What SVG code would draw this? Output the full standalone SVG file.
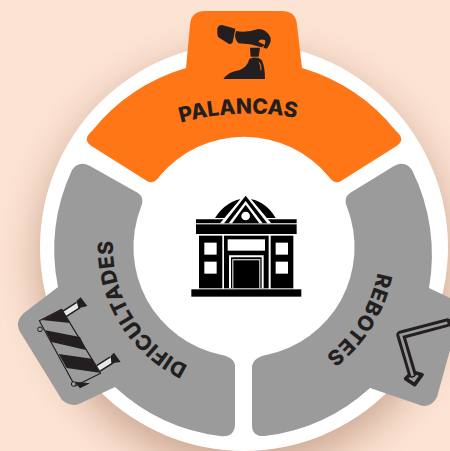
<svg xmlns="http://www.w3.org/2000/svg" width="450" height="451" viewBox="0 0 450 451">
<style>
.seg{stroke-linejoin:round}
.lab{font-family:"Inter","Liberation Sans",sans-serif;font-weight:800;font-size:21px;fill:#231f20;text-anchor:middle}
.ink{fill:#231f20}
.k{fill:#000}
.w{fill:#fff}
</style>
<defs>
<filter id="blur" x="-30%" y="-30%" width="160%" height="160%"><feGaussianBlur stdDeviation="22"/></filter>
<path id="pa" d="M129.5 142.9A260 260 0 0 1 349.1 133.5"/>
<path id="pd" d="M223.5 376.4A131 131 0 0 1 120.1 204.4"/>
<path id="pr" d="M373.3 205A136 136 0 0 1 262.9 381.7"/>
</defs>
<rect width="450" height="451" fill="#fde3d3"/>
<circle cx="244" cy="262" r="204" fill="#a87f66" opacity=".65" filter="url(#blur)"/>
<circle cx="244" cy="247" r="204" fill="#fff"/>
<g id="node-palancas">
<path class="seg" fill="#ff7617" d="M205 11H282Q296 11 297 25L302 68A190 190 0 0 1 396 131Q407 140 395 147L341 181Q335 185 329 177A110 110 0 0 0 159 177Q153 185 147 181L93 147Q81 140 92 131A190 190 0 0 1 186 68L190 25Q191 11 205 11Z"/>
<g transform="translate(210 15) scale(.3333)">
<path class="ink" d="M22 42Q24 30 36 30L76 41 68 82Q64 90 56 86L30 70Q22 66 22 58Z"/>
<path class="ink" d="M78 48Q110 54 145 42Q170 42 182 68Q184 85 170 101L160 98Q168 85 165 75Q150 70 145 80L165 90 155 97 120 88 86 85Q70 70 78 48Z"/>
<path class="ink" d="M120 98H150L146 125H122Z"/>
<path class="ink" d="M118 132Q140 122 155 135Q165 155 165 192H40Q55 170 90 165Q112 155 118 132Z"/>
<path d="M148 142Q154 152 153 166" fill="none" stroke="#ff7617" stroke-width="3"/>
</g>
<text class="lab"><textPath href="#pa" startOffset="50%">PALANCAS</textPath></text>
</g>
<g id="node-dificultades">
<path class="seg" fill="#9b9b9b" d="M72 170Q79 160 90 166L138 193Q145 198 141 207A110 110 0 0 0 222 355Q236 358 235 368L235 425Q234 438 220 436A190 190 0 0 1 115 387L81 403Q72 408 62 400L22 335Q13 323 24 313L58 287A190 190 0 0 1 72 170Z"/>
<g transform="translate(30 290) scale(.3333)">
<path d="M103 72L145 45M205 235L245 210" stroke="#231f20" stroke-width="24"/>
<path d="M103 72L145 45M205 235L245 210" stroke="#e8e8e8" stroke-width="15"/>
<path class="ink" d="M140 32L152 22 172 48 145 55Z"/>
<path class="ink" d="M242 198L252 188 272 216 244 220Z"/>
<path d="M28 92L95 58 212 250 135 288Z" fill="#9b9b9b" stroke="#231f20" stroke-width="3.5" stroke-linejoin="round"/>
<path class="ink" d="M36 90L95 58 120 99ZM46 121L64 156 168 180 150 141ZM86 192L110 234 209 248 186 206ZM133 275L150 295 180 280Z"/>
<circle cx="30" cy="118" r="7" fill="#9b9b9b" stroke="#231f20" stroke-width="3"/>
<circle cx="131" cy="282" r="7" fill="#9b9b9b" stroke="#231f20" stroke-width="3"/>
</g>
<text class="lab" letter-spacing=".3"><textPath href="#pd" startOffset="50%">DIFICULTADES</textPath></text>
</g>
<g id="node-rebotes">
<path class="seg" fill="#9b9b9b" d="M394 166Q405 160 412 170A190 190 0 0 1 429 288L450 298V350L437 397Q430 410 417 404L370 388A190 190 0 0 1 265 436Q252 437 252 425L252 368Q252 358 266 355A110 110 0 0 0 347 207Q343 198 350 193Z"/>
<g transform="translate(390 310) scale(.3333)">
<path d="M47 206L74 224 96 194 68 186Z" fill="#9b9b9b" stroke="#231f20" stroke-width="11" stroke-linejoin="round"/>
<path fill="none" stroke="#231f20" stroke-width="26" stroke-linejoin="round" stroke-linecap="round" d="M172 38L32 75 66 190"/>
<path fill="none" stroke="#9b9b9b" stroke-width="8" d="M172 38L32 75 68 198"/>
</g>
<text class="lab" letter-spacing=".5"><textPath href="#pr" startOffset="50%">REBOTES</textPath></text>
</g>
<g id="node-building">
<g transform="translate(170 180) scale(.3333)">
<path class="k" d="M78 118H380V130H78Z"/>
<rect class="k" x="78" y="133" width="302" height="29"/>
<rect class="k" x="87" y="167" width="70" height="158"/>
<rect class="k" x="302" y="167" width="68" height="158"/>
<rect class="k" x="162" y="167" width="134" height="158"/>
<rect class="w" x="173" y="178" width="112" height="34"/>
<rect class="w" x="103" y="188" width="37" height="36"/>
<rect class="w" x="103" y="245" width="37" height="36"/>
<rect class="w" x="317" y="188" width="37" height="36"/>
<rect class="w" x="317" y="245" width="37" height="36"/>
<path class="w" d="M177 226H281V325H275V232H183V325H177Z"/>
<path class="w" d="M187 238H271V325H268V241H190V325H187Z"/>
<rect class="k" x="64" y="328" width="330" height="22"/>
</g>
<g transform="translate(210 190) scale(.3333)">
<path class="k" d="M15 84Q50 30 107 25Q165 30 197 84Z"/>
<path class="w" d="M107 8L184 100H30Z"/>
<path class="k" d="M107 17L172 100H42Z"/>
<path class="w" d="M107 33L158 100H56Z"/>
<path class="k" d="M107 44L148 100H66Z"/>
<circle class="w" cx="107" cy="78" r="13"/>
</g>
</g>
<g id="connectors"/>
</svg>
